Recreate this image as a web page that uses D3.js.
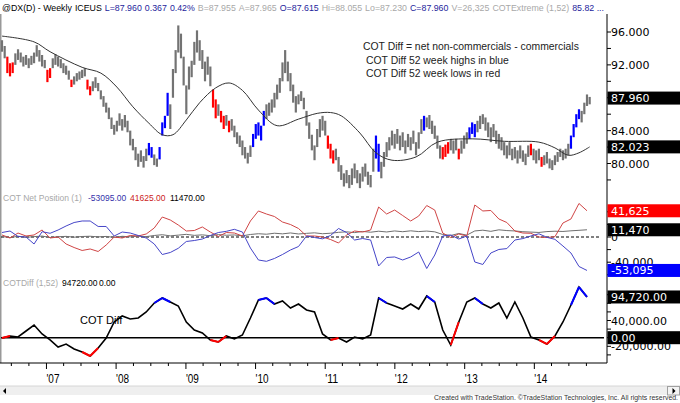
<!DOCTYPE html>
<html>
<head>
<meta charset="utf-8">
<script src="https://cdn.jsdelivr.net/npm/d3@7"></script>
<style>
body { margin: 0; background: #fff; }
svg { display: block; font-family: "Liberation Sans", Arial, sans-serif; }
</style>
</head>
<body>
<div id="chart"></div>
<script>
// ---- data ----
// weekly DX bars, sampled every 2 weeks from May 2006
var startDate = new Date(2006, 4, 13);
var barDays = 14;

var barLow = [
  93.6,92.8,91.0,90.6,91.0,92.0,92.6,92.3,91.8,92.0, 91.6,92.0,92.2,93.0,92.4,91.8,91.6,89.9,90.4,91.6,
  92.0,91.8,91.6,91.0,90.8,90.2,89.3,89.6,90.0,90.2, 90.4,90.6,89.0,88.3,88.8,89.2,88.8,87.8,86.9,86.2,
  85.4,84.2,83.5,83.9,84.6,84.0,84.4,83.8,82.2,81.6, 80.4,79.6,80.2,79.5,80.3,81.0,80.7,79.8,79.6,80.5,
  83.4,84.3,85.8,84.2,88.0,91.0,93.5,92.8,89.5,86.0, 89.0,90.5,92.0,93.5,92.5,91.5,90.0,90.8,89.4,86.8,
  85.5,85.8,85.0,84.2,84.6,83.8,84.0,83.2,82.4,82.0, 81.0,80.6,80.0,80.8,82.0,83.0,83.4,82.8,84.6,85.4,
  85.8,86.2,86.8,87.8,88.6,90.0,91.0,90.0,88.8,87.4, 86.2,87.2,87.6,86.6,84.6,83.0,81.6,80.4,82.0,83.2,
  84.0,83.4,81.8,80.6,80.0,80.4,79.0,78.0,77.2,77.6, 77.0,77.4,78.2,77.6,77.0,77.8,78.4,77.4,77.1,79.0,
  80.6,79.0,78.2,79.6,80.8,81.6,82.2,81.8,82.4,81.6, 82.0,81.2,82.0,81.6,82.4,81.0,81.8,83.6,84.0,84.4,
  84.2,83.6,83.0,81.8,80.6,80.5,80.8,81.2,81.6,81.2, 81.6,80.5,81.2,81.8,82.4,83.0,83.6,83.2,83.8,84.2,
  84.8,84.0,83.2,82.6,83.2,82.4,81.8,81.6,81.0,80.6, 81.0,80.4,80.6,80.0,80.6,80.2,79.8,80.8,81.0,80.4,
  80.0,80.4,79.6,79.8,80.0,79.4,79.2,79.8,80.2,80.8, 80.4,80.6,81.0,81.8,83.2,84.4,85.4,85.0,86.0,87.0,
  87.2
];
var barHigh = [
  95.0,94.3,93.0,92.2,92.3,93.4,93.9,93.5,93.0,93.2, 92.8,93.1,93.5,94.4,93.8,93.2,92.6,91.4,91.6,92.8,
  93.3,93.0,92.7,92.2,91.9,91.3,90.2,90.6,91.0,91.2, 91.4,91.6,90.2,89.4,90.0,90.5,89.8,88.9,88.2,87.4,
  86.8,85.6,84.7,85.2,86.1,85.4,85.9,85.2,84.0,83.0, 82.0,81.2,81.6,80.9,81.8,82.5,82.0,81.1,80.6,82.0,
  85.0,85.8,88.6,87.2,91.5,93.8,96.8,95.8,93.0,89.5, 91.8,92.5,94.8,96.2,95.0,93.8,92.4,93.0,91.8,89.0,
  87.8,87.2,86.4,85.8,85.9,85.2,85.4,84.6,83.8,83.4, 82.8,82.0,81.3,82.2,83.6,84.8,85.0,84.6,86.4,87.2,
  87.4,87.8,88.6,89.6,90.4,92.3,93.8,92.4,91.0,89.6, 88.2,88.4,88.8,88.0,86.4,85.0,83.5,82.2,84.2,85.4,
  85.8,85.2,83.4,82.4,81.6,81.8,80.8,79.8,78.8,79.2, 78.6,79.4,80.0,79.2,78.8,79.6,80.0,79.0,78.6,81.8,
  83.4,82.4,80.2,81.4,82.6,83.2,84.0,83.6,84.2,83.4, 83.8,82.8,83.6,83.2,84.0,82.6,83.8,85.4,85.8,85.6,
  85.9,85.2,84.6,83.4,82.2,82.0,82.3,82.6,83.0,82.8, 83.0,81.8,82.8,83.4,83.8,84.4,85.0,84.8,85.2,85.8,
  86.0,85.6,85.0,84.4,84.8,84.0,83.6,83.2,82.6,82.2, 82.6,81.8,82.0,81.6,82.2,81.6,81.2,82.2,82.4,81.8,
  81.6,81.8,80.8,81.0,81.4,80.6,80.4,81.0,81.4,81.8, 81.6,81.8,82.4,83.4,84.8,86.0,86.6,86.4,87.4,88.4,
  88.1
];
// bars painted as COT Diff 52 week lows (red) / highs (blue), by bar index
var redBars = [[2,4],[17,18],[26,26],[32,33],[79,80],[82,83],[85,85],[122,124],[165,167],[171,171],[198,198],[202,202]];
var blueBars = [[55,56],[59,62],[94,98],[140,141],[158,158],[175,177],[213,216]];
var lastPrice = 87.96;

// moving average (thin black line), bar index -> value
var maIdx = [0,12,18,30,37,43,49,55,60,64,69,74,80,85,90,96,103,111,118,123,127,134,140,146,155,163,176,188,201,207,212,216,220];
var maVal = [95.5,94.8,93.6,91.7,91.0,89.3,86.9,84.9,83.5,83.5,85.3,87.4,89.2,89.8,88.9,86.5,84.6,85.4,86.1,86.2,85.8,83.7,81.3,80.4,80.8,82.6,83.0,82.7,82.6,81.9,81.0,81.3,82.023];

// COT series, one value every 3 bars (6 weeks)
var cotStep = 3;
var cotNonComm = [
  3200,-1600,6300,1600,3200,11100,-1600,0,-11100,-16700,
  -21400,-19000,-23000,-12700,0,-1600,2400,1600,4800,14300,
  31700,27000,19000,9500,10300,15900,7900,800,7100,6300,
  1600,25400,41300,36500,32500,23800,19800,13500,1600,1600,
  0,-4000,-9500,3200,9500,7900,11100,47600,36500,42800,
  34100,25400,33300,50000,42800,6300,-800,4800,1600,50800,
  41300,42100,28600,23000,9500,6300,5900,0,-800,500,
  22200,28600,53200,41625
];
var cotComm = [
  7100,9500,800,0,-11100,8400,5900,11100,17500,23000,
  25400,25400,16700,16700,1600,7900,6300,2400,-1600,-11100,
  -27800,-24600,-17900,-7100,-5600,-3200,2400,7100,9000,12200,
  7900,-17500,-36500,-38600,-34100,-27800,-20600,-15100,1600,-800,
  -2900,2400,13500,7100,-4800,-2400,-4800,-46000,-32500,-31700,
  -36500,-31700,-23800,-50000,-28600,1600,3200,-3200,1600,-39700,
  -43600,-25400,-19800,-18400,-4800,-2500,1600,5100,-500,-3700,
  -14300,-25400,-46800,-53095
];
var cotSmall = [
  800,-1000,1200,-500,600,1500,-800,400,1000,-300,
  800,1200,200,900,-600,1100,300,1400,600,2400,
  3600,1800,3000,4200,2600,3400,2000,3800,2800,3200,
  1800,4000,5200,4400,6000,5000,6400,4800,5800,6600,
  5200,6000,7400,8200,7000,8800,7600,9200,8000,9600,
  8400,9800,8600,9400,8200,4000,2400,5600,3000,9600,
  10800,9000,11400,10200,9600,8400,7800,7200,8600,9200,
  8800,9800,10600,11470
];
var cotDiff = [
  -700,4000,1600,15600,29500,8600,-5300,-21600,-14700,-26300,
  -33300,-42600,-24000,-700,36500,50500,43500,45800,59800,80700,
  92300,83000,73700,36500,17900,10900,-5300,-10000,4000,-3000,
  6300,45800,87700,92300,78400,85400,69100,78400,64400,59800,
  8600,-5300,-700,-10000,1600,-3000,6300,92300,80700,73700,
  66700,78400,66700,97000,83000,17900,-17000,36500,83000,92300,
  78400,69100,80700,45800,83000,45800,1600,-5300,-14700,4000,
  36500,76100,117900,94720
];
// segments of the COT Diff line (from point k to k+1) marked as highs / lows
var diffBlue = [19,20,32,33,47,53,59,71,72];
var diffRed = [0,10,11,26,27,41,56,67,68];

var priceTicks = [78,80,82,84,86,88,90,92,94,96];
var priceLabels = [80,84,88,92,96];
var netTicks = [40000,20000,0,-20000,-40000,-60000];
var netLabels = [40000,0,-40000];
var diffTicks = [100000,80000,60000,40000,20000,0,-20000,-40000];
var diffLabels = [40000,0,-20000];
var years = [2007,2008,2009,2010,2011,2012,2013,2014];

var headerItems = [
  ["@DX(D) - Weekly", "#000"], ["ICEUS", "#000"], ["L=87.960", "#24249c"], ["0.367", "#24249c"],
  ["0.42%", "#24249c"], ["B=87.955", "#a8a8a8"], ["A=87.965", "#a8a8a8"], ["O=87.615", "#24249c"],
  ["Hi=88.055", "#a8a8a8"], ["Lo=87.230", "#a8a8a8"], ["C=87.960", "#24249c"], ["V=26,325", "#a8a8a8"],
  ["COTExtreme (1,52)", "#a8a8a8"], ["85.82 ...", "#24249c"]
];
var notes = ["COT Diff = net non-commercials - commercials", "COT Diff 52 week highs in blue", "COT Diff 52 week lows in red"];

// ---- chart ----
var W = 680, H = 403;
var svg = d3.select("#chart").append("svg").attr("width", W).attr("height", H);

// plain hyphen for negatives, like the original
var loc = d3.formatLocale({ decimal: ".", thousands: ",", grouping: [3], currency: ["$", ""], minus: "-" });
var fmtInt = loc.format(","), fmt2 = loc.format(".2f"), fmtC2 = loc.format(",.2f"), fmt3 = loc.format(".3f");

function barDate(i) { return d3.timeDay.offset(startDate, i * barDays); }
function inRanges(i, ranges) {
  return ranges.some(function(r) { return i >= r[0] && i <= r[1]; });
}

var x = d3.scaleTime().domain([new Date(2006, 4, 13), new Date(2014, 9, 25)]).range([2, 591]);
var yPrice = d3.scaleLinear().domain([96, 80]).range([32, 163.5]);
var yNet = d3.scaleLinear().domain([0, -40000]).range([237, 262.2]);
var yDiff = d3.scaleLinear().domain([0, 40000]).range([337.7, 320.5]);
var axisX = 607;

// header
var hdr = svg.append("g").attr("font-size", "8.8px");
var hx = [], total = 0;
headerItems.forEach(function(h) {
  var t = hdr.append("text").attr("y", 11).attr("fill", h[1]).text(h[0]);
  var w = t.node().getComputedTextLength();
  hx.push([t, w]); total += w;
});
var gap = (604 - 2 - total) / (headerItems.length - 1), cx = 2;
hx.forEach(function(p) { p[0].attr("x", cx); cx += p[1] + gap; });

// frame lines
svg.append("line").attr("x1", 0.75).attr("x2", 0.75).attr("y1", 14).attr("y2", 363)
  .attr("stroke", "#999").attr("stroke-width", 1.5);
svg.append("line").attr("x1", axisX).attr("x2", axisX).attr("y1", 14).attr("y2", 363)
  .attr("stroke", "#000").attr("stroke-width", 1);
svg.append("line").attr("x1", 0).attr("x2", axisX).attr("y1", 363).attr("y2", 363)
  .attr("stroke", "#000").attr("stroke-width", 1);

// price bars
var gPrice = svg.append("g");
gPrice.selectAll("line.bar").data(barLow).enter().append("line")
  .attr("class", "bar")
  .attr("x1", function(d, i) { return x(barDate(i)); })
  .attr("x2", function(d, i) { return x(barDate(i)); })
  .attr("y1", function(d, i) { return yPrice(barHigh[i]); })
  .attr("y2", function(d) { return yPrice(d); })
  .attr("stroke", function(d, i) {
    return inRanges(i, redBars) ? "#ff0000" : inRanges(i, blueBars) ? "#0000ff" : "#737373";
  })
  .attr("stroke-width", 2.2);

// moving average
gPrice.append("path")
  .datum(d3.zip(maIdx, maVal))
  .attr("fill", "none").attr("stroke", "#333").attr("stroke-width", 1)
  .attr("d", d3.line()
    .x(function(d) { return x(barDate(d[0])); })
    .y(function(d) { return yPrice(d[1]); })
    .curve(d3.curveCatmullRom));

// notes
svg.append("g").attr("font-size", "10.4px").attr("fill", "#222")
  .selectAll("text").data(notes).enter().append("text")
  .attr("x", function(d, i) { return i === 0 ? 363 : 366; })
  .attr("y", function(d, i) { return 50 + i * 13.6; })
  .text(function(d) { return d; });

// COT net position panel
var gNet = svg.append("g");
var hdr2 = gNet.append("g").attr("font-size", "8.5px");
hdr2.append("text").attr("x", 3).attr("y", 201).attr("fill", "#a8a8a8").text("COT Net Position (1)");
hdr2.append("text").attr("x", 88).attr("y", 201).attr("fill", "#3333aa").text(fmt2(cotComm[cotComm.length - 1]));
hdr2.append("text").attr("x", 130).attr("y", 201).attr("fill", "#cc2222").text(fmt2(cotNonComm[cotNonComm.length - 1]));
hdr2.append("text").attr("x", 170).attr("y", 201).attr("fill", "#000").text(fmt2(cotSmall[cotSmall.length - 1]));

gNet.append("line").attr("x1", 1).attr("x2", 600).attr("y1", yNet(0)).attr("y2", yNet(0))
  .attr("stroke", "#000").attr("stroke-width", 1).attr("stroke-dasharray", "3,2");

var netLine = d3.line()
  .x(function(d, k) { return x(barDate(k * cotStep)); })
  .y(function(d) { return yNet(d); });
gNet.append("path").datum(cotSmall).attr("fill", "none").attr("stroke", "#707070").attr("stroke-width", 1).attr("d", netLine);
gNet.append("path").datum(cotNonComm).attr("fill", "none").attr("stroke", "#d04545").attr("stroke-width", 1).attr("d", netLine);
gNet.append("path").datum(cotComm).attr("fill", "none").attr("stroke", "#4545c8").attr("stroke-width", 1).attr("d", netLine);

// COT diff panel
var gDiff = svg.append("g");
var hdr3 = gDiff.append("g").attr("font-size", "8.5px");
hdr3.append("text").attr("x", 3).attr("y", 286).attr("fill", "#a8a8a8").text("COTDiff (1,52)");
hdr3.append("text").attr("x", 62).attr("y", 286).attr("fill", "#000").text(fmt2(cotDiff[cotDiff.length - 1]));
hdr3.append("text").attr("x", 99).attr("y", 286).attr("fill", "#000").text(fmt2(0));

gDiff.append("line").attr("x1", 1).attr("x2", 604).attr("y1", yDiff(0)).attr("y2", yDiff(0))
  .attr("stroke", "#000").attr("stroke-width", 1.6);

var diffX = function(k) { return x(barDate(k * cotStep)); };
gDiff.append("path").datum(cotDiff).attr("fill", "none").attr("stroke", "#000").attr("stroke-width", 1.6)
  .attr("d", d3.line().x(function(d, k) { return diffX(k); }).y(function(d) { return yDiff(d); }));

function diffSegs(list, color) {
  gDiff.selectAll(null).data(list).enter().append("line")
    .attr("x1", function(k) { return diffX(k); })
    .attr("x2", function(k) { return diffX(k + 1); })
    .attr("y1", function(k) { return yDiff(cotDiff[k]); })
    .attr("y2", function(k) { return yDiff(cotDiff[k + 1]); })
    .attr("stroke", color).attr("stroke-width", 2);
}
diffSegs(diffBlue, "#0000ff");
diffSegs(diffRed, "#ff0000");

gDiff.append("text").attr("x", 80).attr("y", 324).attr("font-size", "11px").attr("fill", "#000").text("COT Diff");

// right axis ticks and labels
var gAxis = svg.append("g").attr("font-family", "'DejaVu Sans', sans-serif").attr("font-size", "11px");
function ticks(list, scale) {
  gAxis.selectAll(null).data(list).enter().append("line")
    .attr("x1", axisX).attr("x2", axisX + 4)
    .attr("y1", function(d) { return scale(d); }).attr("y2", function(d) { return scale(d); })
    .attr("stroke", "#000");
}
function labels(list, scale, fmt) {
  gAxis.selectAll(null).data(list).enter().append("text")
    .attr("x", axisX + 4).attr("y", function(d) { return scale(d) + 4; })
    .attr("fill", "#000").text(function(d) { return fmt(d); });
}
ticks(priceTicks, yPrice); labels(priceLabels, yPrice, fmt3);
ticks(netTicks, yNet); labels(netLabels, yNet, fmtInt);
ticks(diffTicks, yDiff); labels(diffLabels, yDiff, fmtC2);

// value boxes (last values), drawn over the axis labels as in TradeStation
function valueBox(yv, txt, fill) {
  gAxis.append("rect").attr("x", axisX + 0.5).attr("y", yv - 6.5).attr("width", W - axisX).attr("height", 13).attr("fill", fill);
  gAxis.append("text").attr("x", axisX + 4).attr("y", yv + 4).attr("fill", "#fff").text(txt);
}
valueBox(yPrice(lastPrice), fmt3(lastPrice), "#000");
valueBox(yPrice(maVal[maVal.length - 1]), fmt3(maVal[maVal.length - 1]), "#000");
valueBox(yNet(cotNonComm[cotNonComm.length - 1]), fmtInt(cotNonComm[cotNonComm.length - 1]), "#ff0000");
valueBox(yNet(cotSmall[cotSmall.length - 1]), fmtInt(cotSmall[cotSmall.length - 1]), "#000");
valueBox(yNet(cotComm[cotComm.length - 1]), fmtInt(cotComm[cotComm.length - 1]), "#0000ff");
valueBox(yDiff(cotDiff[cotDiff.length - 1]), fmtC2(cotDiff[cotDiff.length - 1]), "#000");
valueBox(yDiff(0), fmt2(0), "#000");

// time axis
var gx = svg.append("g");
var quarters = d3.timeMonth.every(3).range(new Date(2006, 6, 1), new Date(2014, 11, 31));
gx.selectAll(null).data(quarters).enter().append("line")
  .attr("x1", function(d) { return x(d); }).attr("x2", function(d) { return x(d); })
  .attr("y1", 363).attr("y2", function(d) { return d.getMonth() === 0 ? 369 : 366; })
  .attr("stroke", "#000");
gx.selectAll(null).data(years).enter().append("text")
  .attr("x", function(d) { return x(new Date(d, 0, 1)); })
  .attr("y", 383).attr("font-size", "12px").attr("fill", "#000")
  .attr("textLength", 13).attr("lengthAdjust", "spacingAndGlyphs")
  .text(function(d) { return "'" + String(d).slice(2); });

// scroll bar
svg.append("rect").attr("x", 0).attr("y", 386).attr("width", W).attr("height", 9).attr("fill", "#efefef");
svg.append("line").attr("x1", 0).attr("x2", W).attr("y1", 386).attr("y2", 386).attr("stroke", "#d6d6d6");
svg.append("rect").attr("x", 667.5).attr("y", 386.5).attr("width", 12).attr("height", 8.5).attr("fill", "#f4f4f4").attr("stroke", "#a0a0a0");
svg.append("path").attr("d", "M6,388 L3,391 L6,394 Z").attr("fill", "#000");
svg.append("path").attr("d", "M672.5,388 L675.5,391 L672.5,394 Z").attr("fill", "#000");

svg.append("text").attr("x", 678).attr("y", 399.5).attr("text-anchor", "end")
  .attr("font-size", "7.2px").attr("fill", "#333")
  .attr("textLength", 244).attr("lengthAdjust", "spacingAndGlyphs")
  .text("Created with TradeStation. \u00A9TradeStation Technologies, Inc. All rights reserved.");
</script>
</body>
</html>
